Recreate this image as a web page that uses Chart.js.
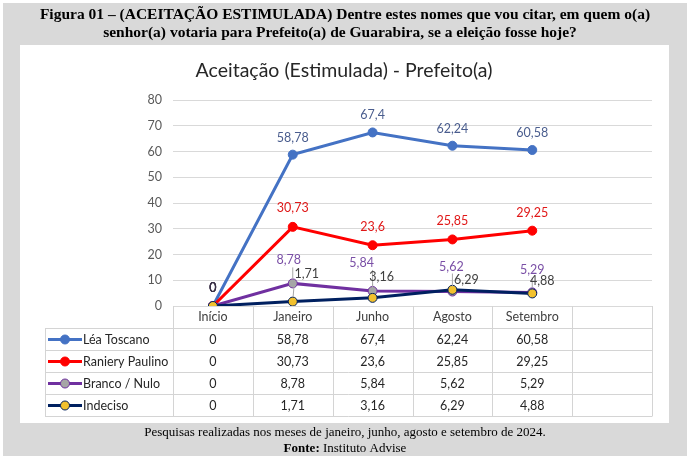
<!DOCTYPE html>
<html><head><meta charset="utf-8">
<script src="https://cdn.jsdelivr.net/npm/chart.js@4"></script>
<style>html,body{margin:0;padding:0;background:#fff;overflow:hidden}canvas{display:block}</style>
</head><body>
<canvas id="c" width="696" height="464" style="width:696px;height:464px"></canvas>
<script>
// ---- data ----
const categories = ['Início', 'Janeiro', 'Junho', 'Agosto', 'Setembro', ''];
const seriesNames = ['Léa Toscano', 'Raniery Paulino', 'Branco / Nulo', 'Indeciso'];
const leaToscano = [0, 58.78, 67.4, 62.24, 60.58];
const ranieryPaulino = [0, 30.73, 23.6, 25.85, 29.25];
const brancoNulo = [0, 8.78, 5.84, 5.62, 5.29];
const indeciso = [0, 1.71, 3.16, 6.29, 4.88];
const yMin = 0, yMax = 80, yStep = 10;

const headerLine1 = 'Figura 01 – (ACEITAÇÃO ESTIMULADA) Dentre estes nomes que vou citar, em quem o(a)';
const headerLine2 = 'senhor(a) votaria para Prefeito(a) de Guarabira, se a eleição fosse hoje?';
const chartTitle = 'Aceitação (Estimulada) - Prefeito(a)';
const footerLine1 = 'Pesquisas realizadas nos meses de janeiro, junho, agosto e setembro de 2024.';
const footerBold = 'Fonte:';
const footerRest = ' Instituto Advise';

const FONT = 'Lato, "Open Sans", sans-serif';
const fmt = v => String(v).replace('.', ',');

const datasets = [
  { label: seriesNames[0], data: leaToscano, borderColor: '#4472C4', backgroundColor: '#4472C4',
    pointBackgroundColor: '#4472C4', pointBorderColor: '#4472C4', order: 3,
    labelColor: '#4a5d8e', labelNudge: [[0,-18],[0,-17],[0,-17],[0,-17],[0,-17]] },
  { label: seriesNames[1], data: ranieryPaulino, borderColor: '#FF0000', backgroundColor: '#FF0000',
    pointBackgroundColor: '#FF0000', pointBorderColor: '#FF0000', order: 2,
    labelColor: '#e01818', labelNudge: [[0,-18],[0,-19],[0,-18],[0,-18],[0,-18]] },
  { label: seriesNames[2], data: brancoNulo, borderColor: '#7030A0', backgroundColor: '#7030A0',
    pointBackgroundColor: '#A6A6A6', pointBorderColor: '#7030A0', order: 1,
    labelColor: '#7a4fa6', leader: true, labelNudge: [[0,-18],[-4,-23],[-11,-28],[-1,-25],[0,-22]] },
  { label: seriesNames[3], data: indeciso, borderColor: '#002060', backgroundColor: '#002060',
    pointBackgroundColor: '#F2C12E', pointBorderColor: '#002060', order: 0,
    labelColor: '#404040', leader: true, labelNudge: [[0,-18],[14,-28],[9,-21],[14,-10],[10,-12]] }
];

const framePlugin = {
  id: 'frame',
  beforeDraw(chart) {
    const ctx = chart.ctx;
    ctx.save();
    ctx.fillStyle = '#ffffff'; ctx.fillRect(0, 0, 696, 464);
    ctx.fillStyle = '#d9d9d9'; ctx.fillRect(3, 3, 684, 453);
    ctx.fillStyle = '#ffffff'; ctx.fillRect(20, 45, 649, 378);
    ctx.fillStyle = '#000';
    ctx.textAlign = 'center'; ctx.textBaseline = 'middle';
    ctx.font = 'bold 15.5px "Liberation Serif", serif';
    ctx.fillText(headerLine1, 345, 15, 664);
    ctx.fillText(headerLine2, 340, 33, 501);
    ctx.font = '19.5px ' + FONT;
    ctx.fillStyle = '#262626';
    ctx.fillText(chartTitle, 344, 71, 306);
    ctx.fillStyle = '#000';
    ctx.font = '13px "Liberation Serif", serif';
    ctx.fillText(footerLine1, 345, 433, 423);
    ctx.font = 'bold 13px "Liberation Serif", serif';
    const wb = ctx.measureText(footerBold).width;
    ctx.font = '13px "Liberation Serif", serif';
    const wr = ctx.measureText(footerRest).width;
    const x0 = 345 - (wb + wr) / 2;
    ctx.textAlign = 'left';
    ctx.font = 'bold 13px "Liberation Serif", serif';
    ctx.fillText(footerBold, x0, 449);
    ctx.font = '13px "Liberation Serif", serif';
    ctx.fillText(footerRest, x0 + wb, 449);
    ctx.restore();
  }
};

const tablePlugin = {
  id: 'table',
  beforeDatasetsDraw(chart) {
    const ctx = chart.ctx, xs = chart.scales.x, area = chart.chartArea;
    const half = (xs.getPixelForValue(1) - xs.getPixelForValue(0)) / 2;
    const top = area.bottom, rowH = 22, leftX = 45;
    const nRows = chart.data.datasets.length;
    const bottom = top + rowH * (nRows + 1);
    ctx.save();
    ctx.strokeStyle = '#d4d4d4'; ctx.lineWidth = 1;
    ctx.beginPath();
    for (let i = 0; i < categories.length; i++) {
      const bx = Math.round(xs.getPixelForValue(i) - half) + 0.5;
      ctx.moveTo(bx, top); ctx.lineTo(bx, bottom);
    }
    const rx = Math.round(xs.getPixelForValue(categories.length - 1) + half) + 0.5;
    ctx.moveTo(rx, top); ctx.lineTo(rx, bottom);
    ctx.moveTo(leftX + 0.5, top + rowH); ctx.lineTo(leftX + 0.5, bottom);
    for (let r = 1; r <= nRows + 1; r++) {
      const y = Math.round(top + rowH * r) + 0.5;
      ctx.moveTo(leftX, y); ctx.lineTo(rx, y);
    }
    ctx.stroke();
    ctx.font = '12.5px ' + FONT;
    ctx.textBaseline = 'middle';
    chart.data.datasets.forEach((ds, r) => {
      const cy = top + rowH * (r + 1) + rowH / 2 + 0.5;
      // legend key
      ctx.strokeStyle = ds.borderColor; ctx.lineWidth = 3;
      ctx.beginPath(); ctx.moveTo(48, cy); ctx.lineTo(82, cy); ctx.stroke();
      ctx.beginPath(); ctx.arc(65, cy, 4.5, 0, Math.PI * 2);
      ctx.fillStyle = ds.pointBackgroundColor; ctx.fill();
      ctx.lineWidth = 1; ctx.strokeStyle = ds.pointBorderColor; ctx.stroke();
      ctx.fillStyle = '#262626'; ctx.textAlign = 'left';
      ctx.fillText(ds.label, 83, cy);
      ctx.textAlign = 'center';
      ds.data.forEach((v, i) => ctx.fillText(fmt(v), xs.getPixelForValue(i), cy));
    });
    ctx.restore();
  }
};

const labelPlugin = {
  id: 'vlabels',
  afterDatasetsDraw(chart) {
    const ctx = chart.ctx;
    ctx.save();
    ctx.font = '12.5px ' + FONT;
    ctx.textAlign = 'center'; ctx.textBaseline = 'middle';
    chart.data.datasets.forEach((ds, di) => {
      const meta = chart.getDatasetMeta(di);
      meta.data.forEach((pt, i) => {
        const nudge = ds.labelNudge[i];
        const lx = pt.x + nudge[0], ly = pt.y + nudge[1];
        const txt = fmt(ds.data[i]);
        if (ds.leader && i > 0) {
          const hw = ctx.measureText(txt).width / 2;
          const sx = Math.max(lx - hw, Math.min(lx + hw, pt.x));
          const sy = ly + 7;
          const dx = pt.x - sx, dy = pt.y - sy, d = Math.hypot(dx, dy);
          if (d > 9) {
            ctx.strokeStyle = '#a6a6a6'; ctx.lineWidth = 1;
            ctx.beginPath(); ctx.moveTo(sx, sy);
            ctx.lineTo(pt.x - dx / d * 5, pt.y - dy / d * 5); ctx.stroke();
          }
        }
        ctx.fillStyle = i === 0 ? '#3a3046' : ds.labelColor;
        ctx.fillText(txt, lx, ly);
      });
    });
    ctx.restore();
  }
};

new Chart(document.getElementById('c'), {
  type: 'line',
  data: { labels: categories, datasets },
  options: {
    responsive: false, animation: false,
    layout: { padding: { left: 0, right: 44, top: 100, bottom: 0 } },
    elements: {
      line: { borderWidth: 3, tension: 0 },
      point: { radius: 4.5, borderWidth: 1, hoverRadius: 4.5 }
    },
    plugins: { legend: { display: false }, title: { display: false }, tooltip: { enabled: false } },
    scales: {
      x: {
        type: 'category', offset: true,
        grid: { display: false, drawTicks: false }, border: { display: false },
        ticks: { color: '#404040', font: { family: FONT, size: 12.5 }, padding: 3, autoSkip: false, maxRotation: 0 },
        afterFit: s => { s.height = 158; }
      },
      y: {
        min: yMin, max: yMax,
        ticks: { stepSize: yStep, color: '#595959', font: { family: FONT, size: 12.5 }, padding: 11 },
        grid: { color: '#d9d9d9', drawTicks: false }, border: { display: false },
        afterFit: s => { s.width = 173; }
      }
    }
  },
  plugins: [framePlugin, tablePlugin, labelPlugin]
});
</script>
</body></html>
